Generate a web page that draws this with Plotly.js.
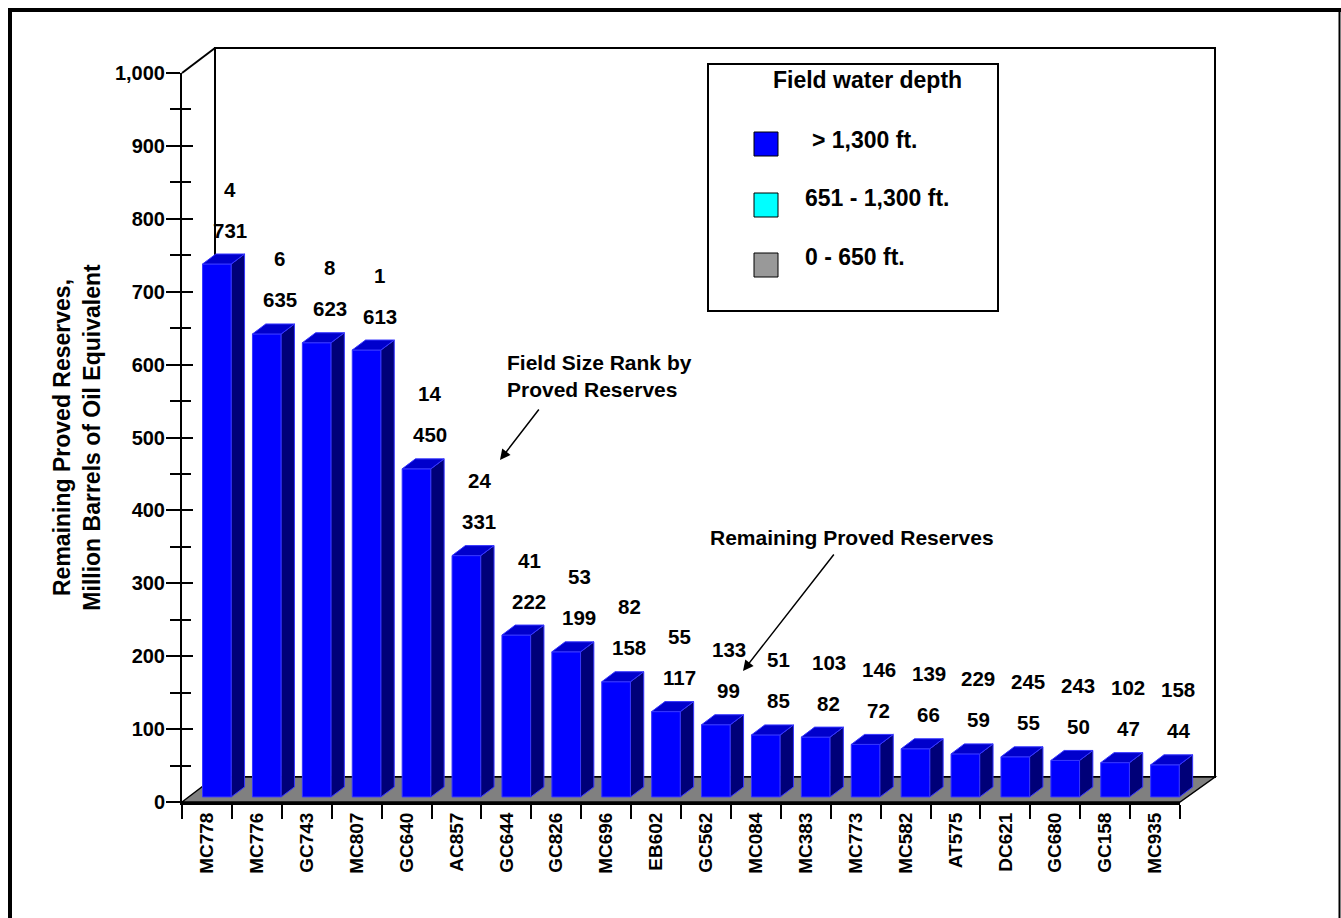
<!DOCTYPE html>
<html>
<head>
<meta charset="utf-8">
<script src="https://cdn.plot.ly/plotly-3.0.1.min.js"></script>
<style>html,body{margin:0;padding:0;background:#fff;}</style>
</head>
<body>
<div id="chart" style="width:1341px;height:918px;"></div>
<script>
// ---------------- data ----------------
const categories = ['MC778','MC776','GC743','MC807','GC640','AC857','GC644','GC826','MC696','EB602',
                    'GC562','MC084','MC383','MC773','MC582','AT575','DC621','GC680','GC158','MC935'];
const reserves   = [731, 635, 623, 613, 450, 331, 222, 199, 158, 117,
                    99, 85, 82, 72, 66, 59, 55, 50, 47, 44];
const ranks      = [4, 6, 8, 1, 14, 24, 41, 53, 82, 55,
                    133, 51, 103, 146, 139, 229, 245, 243, 102, 158];
const yTitleLines  = ['Remaining Proved Reserves,', 'Million Barrels of Oil Equivalent'];
const legendTitle  = 'Field water depth';
const legendLabels = ['> 1,300 ft.', '651 - 1,300 ft.', '0 - 650 ft.'];
const legendColors = ['#0000FF', '#00FFFF', '#999999'];
const noteRank     = 'Field Size Rank by<br>Proved Reserves';
const noteReserves = 'Remaining Proved Reserves';

// ---------------- geometry / style ----------------
const W = 1341, H = 918;
const M = {l: 182, r: 91, t: 73, b: 116};
const PW = W - M.l - M.r;          // paper width in px
const PH = H - M.t - M.b;          // paper height in px
const frontRight = 1180;           // right end of the front category axis
const catPx = (frontRight - M.l) / categories.length;
const unitPx = PH / 1000;
const px = p => (p - M.l) / PW;    // pixel -> paper x
const py = p => (H - M.b - p) / PH;// pixel -> paper y

const lift = 7;                    // bars stand a little behind the front edge
const barOffset = -0.088, barWidth = 0.575;
const depthX = 13.3 / catPx, depthY = 10 / unitPx;
const FONT = 'Liberation Sans, Arial, Helvetica, sans-serif';
const f = (size) => ({family: FONT, size: size, color: '#000', weight: 'bold'});

// ---------------- traces ----------------
const traces = [
  { // front-plane category axis carrier (invisible)
    type: 'scatter', x: categories, y: reserves, xaxis: 'x', yaxis: 'y',
    mode: 'markers', marker: {opacity: 0}, hoverinfo: 'skip', showlegend: false
  },
  { // inner tick carrier
    type: 'scatter', x: categories, y: reserves, xaxis: 'x', yaxis: 'y3',
    mode: 'markers', marker: {opacity: 0}, hoverinfo: 'skip', showlegend: false
  },
  { // bar front faces
    type: 'bar', x: categories, y: reserves, base: lift, offset: barOffset, width: barWidth,
    xaxis: 'x2', yaxis: 'y',
    marker: {color: '#0000FF', line: {color: '#3636FF', width: 1}},
    hoverinfo: 'skip', showlegend: false
  }
];

// ---------------- shapes ----------------
const shapes = [];
const blk = (w) => ({color: '#000', width: w});
// back wall
shapes.push({type: 'rect', xref: 'paper', yref: 'paper', layer: 'below',
  x0: px(215), x1: px(1215), y0: py(777), y1: py(48), line: blk(2), fillcolor: 'rgba(0,0,0,0)'});
shapes.push({type: 'line', xref: 'paper', yref: 'paper', layer: 'below',
  x0: px(182), y0: py(73), x1: px(215), y1: py(48), line: blk(2)});
// floor
shapes.push({type: 'path', xref: 'paper', yref: 'paper', layer: 'below',
  path: `M ${px(182)},${py(802)} L ${px(215)},${py(777)} L ${px(1215)},${py(777)} L ${px(1180)},${py(802)} Z`,
  fillcolor: '#808080', line: blk(1.5)});
// outer frame
shapes.push({type: 'line', xref: 'paper', yref: 'paper', x0: px(8), x1: px(1341), y0: py(10), y1: py(10), line: blk(4)});
shapes.push({type: 'line', xref: 'paper', yref: 'paper', x0: px(10), x1: px(10), y0: py(8), y1: py(918), line: blk(4)});
shapes.push({type: 'line', xref: 'paper', yref: 'paper', x0: px(1339.5), x1: px(1339.5), y0: py(10), y1: py(918), line: blk(2)});
// legend box
shapes.push({type: 'rect', xref: 'paper', yref: 'paper', layer: 'below',
  x0: px(708), x1: px(998), y0: py(311), y1: py(64), line: blk(2), fillcolor: '#fff'});
const legendRows = [144, 205, 265];
legendColors.forEach((c, k) => {
  shapes.push({type: 'rect', xref: 'paper', yref: 'paper',
    x0: px(754), x1: px(778), y0: py(legendRows[k] + 12), y1: py(legendRows[k] - 12),
    fillcolor: c, line: blk(1)});
});
// 3-D faces of each bar, computed from the data
reserves.forEach((v, i) => {
  const x0 = i + barOffset, x1 = x0 + barWidth;
  const yb = lift, yt = lift + v;
  shapes.push({type: 'path', xref: 'x2', yref: 'y', layer: 'above',
    path: `M ${x1},${yb} L ${x1 + depthX},${yb + depthY} L ${x1 + depthX},${yt + depthY} L ${x1},${yt} Z`,
    fillcolor: '#000078', line: {color: '#3636FF', width: 1}});
  shapes.push({type: 'path', xref: 'x2', yref: 'y', layer: 'above',
    path: `M ${x0},${yt} L ${x1},${yt} L ${x1 + depthX},${yt + depthY} L ${x0 + depthX},${yt + depthY} Z`,
    fillcolor: '#0000CC', line: {color: '#3636FF', width: 1}});
});

// ---------------- annotations ----------------
const annotations = [];
categories.forEach((c, i) => {
  annotations.push({xref: 'x', yref: 'y', x: c, y: reserves[i] + lift, text: String(reserves[i]),
    showarrow: false, xanchor: 'center', yanchor: 'middle', xshift: 23, yshift: 34, font: f(20.5)});
  annotations.push({xref: 'x', yref: 'y', x: c, y: reserves[i] + lift, text: String(ranks[i]),
    showarrow: false, xanchor: 'center', yanchor: 'middle', xshift: 23, yshift: 75, font: f(20.5)});
});
annotations.push({xref: 'paper', yref: 'paper', x: px(505), y: py(376), text: noteRank,
  showarrow: false, xanchor: 'left', yanchor: 'middle', align: 'left', font: f(21)});
annotations.push({xref: 'paper', yref: 'paper', x: px(500), y: py(460), text: '',
  showarrow: true, arrowhead: 2, arrowsize: 1.4, arrowwidth: 1.5, arrowcolor: '#000', ax: 40, ay: -52});
annotations.push({xref: 'paper', yref: 'paper', x: px(708), y: py(537), text: noteReserves,
  showarrow: false, xanchor: 'left', yanchor: 'middle', font: f(21)});
annotations.push({xref: 'paper', yref: 'paper', x: px(743), y: py(671), text: '',
  showarrow: true, arrowhead: 2, arrowsize: 1.4, arrowwidth: 1.5, arrowcolor: '#000', ax: 92, ay: -118});
annotations.push({xref: 'paper', yref: 'paper', x: px(867), y: py(80), text: legendTitle,
  showarrow: false, xanchor: 'center', yanchor: 'middle', font: f(23)});
const legendTextX = [810, 803, 803], legendTextY = [140, 198, 257];
legendLabels.forEach((t, k) => {
  annotations.push({xref: 'paper', yref: 'paper', x: px(legendTextX[k]), y: py(legendTextY[k]), text: t,
    showarrow: false, xanchor: 'left', yanchor: 'middle', font: f(23)});
});

// ---------------- layout ----------------
const xDomEnd = (frontRight - M.l) / PW;
const layout = {
  width: W, height: H,
  margin: M,
  paper_bgcolor: '#fff', plot_bgcolor: 'rgba(0,0,0,0)',
  showlegend: false,
  xaxis: {
    type: 'category', domain: [0, xDomEnd], range: [-0.5, categories.length - 0.5],
    categoryorder: 'array', categoryarray: categories,
    tickson: 'boundaries', ticks: 'outside', ticklen: 14, tickwidth: 2, tickcolor: '#000',
    tickangle: -90, tickfont: f(19),
    showline: true, linewidth: 3, linecolor: '#000', showgrid: false, zeroline: false,
    fixedrange: true, automargin: false, anchor: 'y'
  },
  xaxis2: {
    type: 'category', domain: [0, 1], range: [-0.5, -0.5 + PW / catPx],
    categoryorder: 'array', categoryarray: categories,
    visible: false, showgrid: false, zeroline: false, fixedrange: true, anchor: 'y'
  },
  yaxis: {
    range: [0, 1000], domain: [0, 1], dtick: 100, tickformat: ',d',
    ticks: 'outside', ticklen: 14, tickwidth: 2, tickcolor: '#000', tickfont: f(20),
    ticklabelstandoff: -3,
    minor: {dtick: 50, ticks: 'outside', ticklen: 10, tickwidth: 2, tickcolor: '#000', showgrid: false},
    showline: true, linewidth: 2, linecolor: '#000', showgrid: false, zeroline: false,
    fixedrange: true, automargin: false, anchor: 'x',
    title: {text: yTitleLines.join('<br>'), font: f(23), standoff: 8}
  },
  yaxis3: {
    overlaying: 'y', side: 'left', anchor: 'x', range: [0, 1000], dtick: 100,
    ticks: 'inside', ticklen: 11, tickwidth: 2, tickcolor: '#000', showticklabels: false,
    minor: {dtick: 50, ticks: 'inside', ticklen: 9, tickwidth: 2, tickcolor: '#000', showgrid: false},
    showline: false, showgrid: false, zeroline: false, fixedrange: true
  },
  shapes: shapes,
  annotations: annotations
};

Plotly.newPlot('chart', traces, layout, {displayModeBar: false, staticPlot: true});
</script>
</body>
</html>
